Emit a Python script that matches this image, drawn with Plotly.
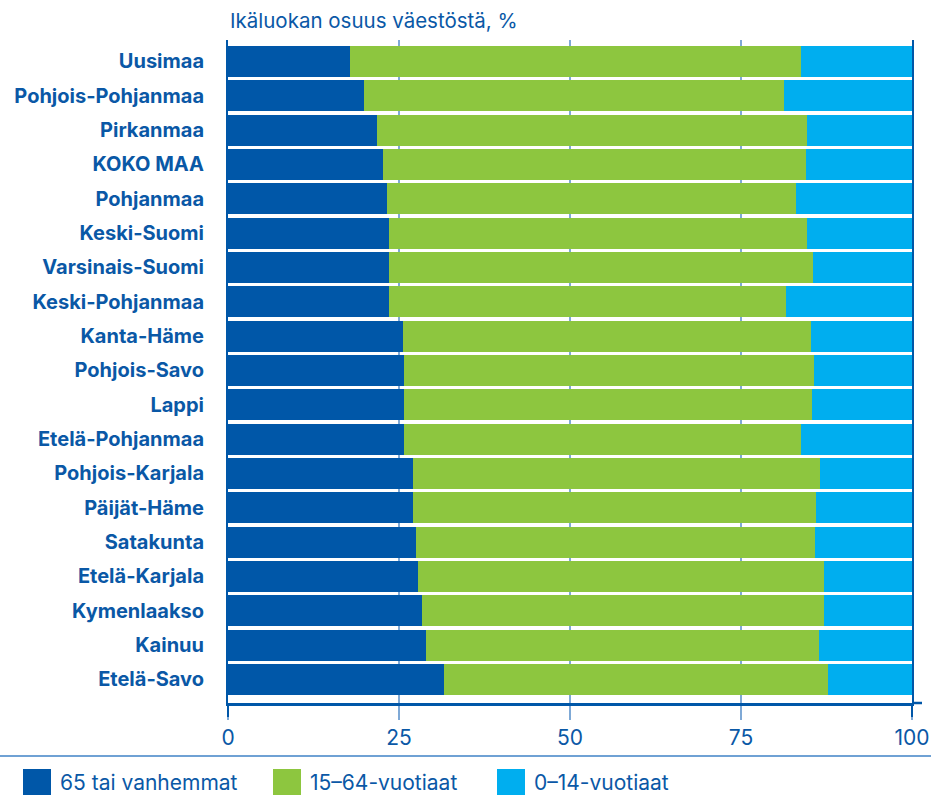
import plotly.graph_objects as go

regions = ["Uusimaa", "Pohjois-Pohjanmaa", "Pirkanmaa", "KOKO MAA", "Pohjanmaa",
           "Keski-Suomi", "Varsinais-Suomi", "Keski-Pohjanmaa", "Kanta-Häme",
           "Pohjois-Savo", "Lappi", "Etelä-Pohjanmaa", "Pohjois-Karjala",
           "Päijät-Häme", "Satakunta", "Etelä-Karjala", "Kymenlaakso", "Kainuu",
           "Etelä-Savo"]

age_65_plus = [17.8, 19.9, 21.8, 22.6, 23.2, 23.6, 23.6, 23.6, 25.6,
               25.7, 25.7, 25.7, 27.1, 27.1, 27.5, 27.8, 28.4, 29.0, 31.6]
age_15_64 = [66.0, 61.4, 62.9, 61.9, 59.8, 61.1, 61.9, 58.0, 59.6,
             60.0, 59.7, 58.1, 59.5, 58.9, 58.3, 59.3, 58.7, 57.4, 56.1]
age_0_14 = [16.2, 18.7, 15.3, 15.5, 17.0, 15.3, 14.5, 18.4, 14.8,
            14.3, 14.6, 16.2, 13.4, 14.0, 14.2, 12.9, 12.9, 13.6, 12.3]

series_names = ["65 tai vanhemmat", "15–64-vuotiaat", "0–14-vuotiaat"]
series_colors = ["#0057A8", "#8DC63F", "#00AEEF"]
series_values = [age_65_plus, age_15_64, age_0_14]

x_ticks = [0, 25, 50, 75, 100]
axis_title = "Ikäluokan osuus väestöstä, %"

TEXT = "#0A58A6"
FONT = "Inter"
W, H = 931, 796
L, R, T, B = 228, 912, 40, 703


def px_x(px):
    return (px - L) / (R - L)


def px_y(py):
    return (B - py) / (B - T)


fig = go.Figure()
for name, color, vals in zip(series_names, series_colors, series_values):
    fig.add_trace(go.Bar(
        y=regions, x=vals, name=name, orientation="h",
        marker=dict(color=color, line=dict(width=0)),
        showlegend=False, hoverinfo="x+y+name",
    ))

shapes = [
    dict(type="line", xref="paper", yref="paper", x0=px_x(0), x1=px_x(931),
         y0=px_y(756), y1=px_y(756), line=dict(color="#3F82C6", width=1.5)),
    dict(type="line", xref="paper", yref="paper", x0=1, x1=px_x(922),
         y0=0, y1=0, line=dict(color="#0057A8", width=2.5)),
    dict(type="line", xref="paper", yref="paper", x0=0, x1=0,
         y0=px_y(703), y1=px_y(717), line=dict(color="#0057A8", width=2)),
    dict(type="line", xref="paper", yref="paper", x0=1, x1=1,
         y0=px_y(703), y1=px_y(717), line=dict(color="#0057A8", width=2)),
]
annotations = [
    dict(text=axis_title, xref="paper", yref="paper", x=0, y=px_y(20),
         xanchor="left", yanchor="middle", showarrow=False,
         font=dict(family=FONT, size=20.5, color=TEXT)),
]

legend_x = [23, 273, 497]
for lx, name, color in zip(legend_x, series_names, series_colors):
    shapes.append(dict(type="rect", xref="paper", yref="paper",
                       x0=px_x(lx), x1=px_x(lx + 28), y0=px_y(769), y1=px_y(795),
                       fillcolor=color, line=dict(width=0)))
    annotations.append(dict(text=name, xref="paper", yref="paper",
                            x=px_x(lx + 35), y=px_y(782), xanchor="left",
                            yanchor="middle", showarrow=False,
                            font=dict(family=FONT, size=21, color=TEXT)))

fig.update_layout(
    width=W, height=H,
    barmode="stack", bargap=0.1,
    margin=dict(l=L, r=W - R, t=T, b=H - B, pad=0, autoexpand=False),
    paper_bgcolor="white", plot_bgcolor="white",
    font=dict(family=FONT, color=TEXT),
    shapes=shapes, annotations=annotations,
    xaxis=dict(
        range=[0, 100], tickvals=x_ticks, ticktext=[str(v) for v in x_ticks],
        showgrid=True, gridcolor="#7FA9D6", gridwidth=2,
        zeroline=False, automargin=False,
        showline=True, linecolor="#0057A8", linewidth=2.5,
        ticks="outside", ticklen=14, tickwidth=2, tickcolor="#7FA9D6",
        ticklabelstandoff=0,
        tickfont=dict(family=FONT, size=21, color=TEXT),
        fixedrange=True,
    ),
    yaxis=dict(
        categoryorder="array", categoryarray=regions,
        range=[18.686, -0.626], automargin=False,
        showgrid=False, zeroline=False,
        showline=True, mirror=True, linecolor="#0057A8", linewidth=2,
        ticks="", ticklabelstandoff=18,
        tickfont=dict(family=FONT, size=20, color=TEXT, weight="bold"),
        fixedrange=True,
    ),
)

fig.write_html(
    "out.html",
    config={"displayModeBar": False},
    post_script="document.body.style.margin='0';"
                "document.documentElement.style.overflow='hidden';",
)
